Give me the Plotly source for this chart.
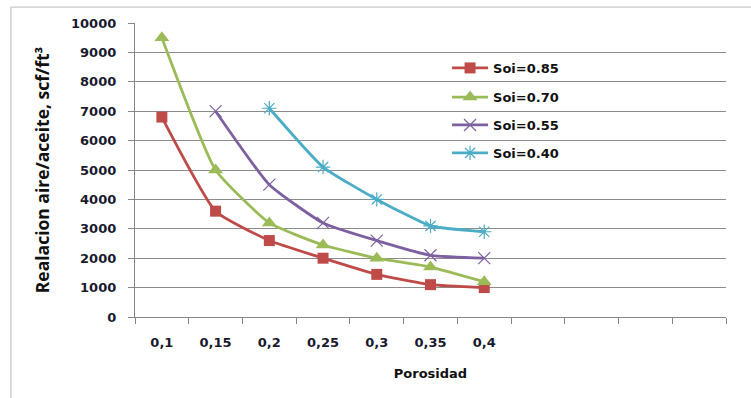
import plotly.graph_objects as go

# Porosity categories (the axis keeps four empty slots after 0,4)
porosidad = ["0,1", "0,15", "0,2", "0,25", "0,3", "0,35", "0,4"]
empty_slots = [" ", "  ", "   ", "    "]

# Air/oil ratio, scf/ft3, for each initial oil saturation
soi_085 = [6800, 3600, 2600, 2000, 1450, 1100, 1000]
soi_070 = [9500, 5000, 3200, 2450, 2000, 1700, 1200]
soi_055 = [None, 7000, 4500, 3200, 2600, 2100, 2000]
soi_040 = [None, None, 7100, 5100, 4000, 3100, 2900]

series = [
    ("Soi=0.85", soi_085, "#BE4B48", dict(symbol="square", size=11)),
    ("Soi=0.70", soi_070, "#9BBB59", dict(symbol="triangle-up", size=13)),
    ("Soi=0.55", soi_055, "#7D60A0", dict(symbol="x-thin-open", size=12, line=dict(width=1.2))),
    ("Soi=0.40", soi_040, "#4BACC6", dict(symbol="asterisk-open", size=12, line=dict(width=1.2))),
]

# one legend per series so the entries can be spaced out vertically
legend_rows = [0.847, 0.748, 0.653, 0.558]

fig = go.Figure()
for i, (name, vals, color, marker) in enumerate(series):
    m = dict(color=color, **marker)
    if "line" in m:
        m["line"]["color"] = color
    fig.add_trace(go.Scatter(
        x=porosidad, y=vals, name=name, mode="lines+markers",
        line=dict(color=color, width=2.8, shape="spline", smoothing=0.45),
        marker=m, connectgaps=False,
        legend="legend" if i == 0 else f"legend{i + 1}",
    ))

label_font = dict(family="DejaVu Sans", size=13, color="#1A1A2E", weight="bold")
legend_common = dict(
    x=0.528, xanchor="left", yanchor="middle",
    font=dict(family="DejaVu Sans", size=13, color="#111111", weight="bold"),
    bgcolor="rgba(0,0,0,0)", itemwidth=36,
)

fig.update_layout(
    width=751, height=398,
    margin=dict(l=135, r=25, t=23, b=81),
    paper_bgcolor="white", plot_bgcolor="white",
    showlegend=True,
    legend=dict(y=legend_rows[0], **legend_common),
    legend2=dict(y=legend_rows[1], **legend_common),
    legend3=dict(y=legend_rows[2], **legend_common),
    legend4=dict(y=legend_rows[3], **legend_common),
    xaxis=dict(
        type="category",
        categoryorder="array",
        categoryarray=porosidad + empty_slots,
        range=[-0.5, 10.5],
        tickson="boundaries",
        ticks="outside", ticklen=6, tickcolor="#868686", tickwidth=1.3,
        ticklabelstandoff=13,
        showline=True, linecolor="#868686", linewidth=1.3,
        showgrid=False,
        tickfont=label_font,
        title=dict(text="Porosidad",
                   font=dict(family="DejaVu Sans", size=13, color="#111111", weight="bold"),
                   standoff=20),
    ),
    yaxis=dict(
        range=[0, 10000], dtick=1000,
        tickformat="d",
        ticks="outside", ticklen=6, tickcolor="#868686", tickwidth=1.3,
        ticklabelstandoff=9,
        showline=True, linecolor="#868686", linewidth=1.3,
        showgrid=True, gridcolor="#8C8C8C", gridwidth=1.3,
        zeroline=False,
        tickfont=label_font,
        title=dict(text="Realacion aire/aceite, scf/ft³",
                   font=dict(family="Open Sans", size=17.5, color="#111111", weight="bold"),
                   standoff=16),
    ),
)

# Light outer frame of the chart area
fig.add_shape(type="line", xref="paper", yref="paper",
              x0=-0.21, x1=1.05, y0=1.054, y1=1.054,
              line=dict(color="#C8C8C8", width=1.3))
fig.add_shape(type="line", xref="paper", yref="paper",
              x0=-0.21, x1=-0.21, y0=1.054, y1=-0.3,
              line=dict(color="#C8C8C8", width=1.3))

fig.write_html("out.html")
